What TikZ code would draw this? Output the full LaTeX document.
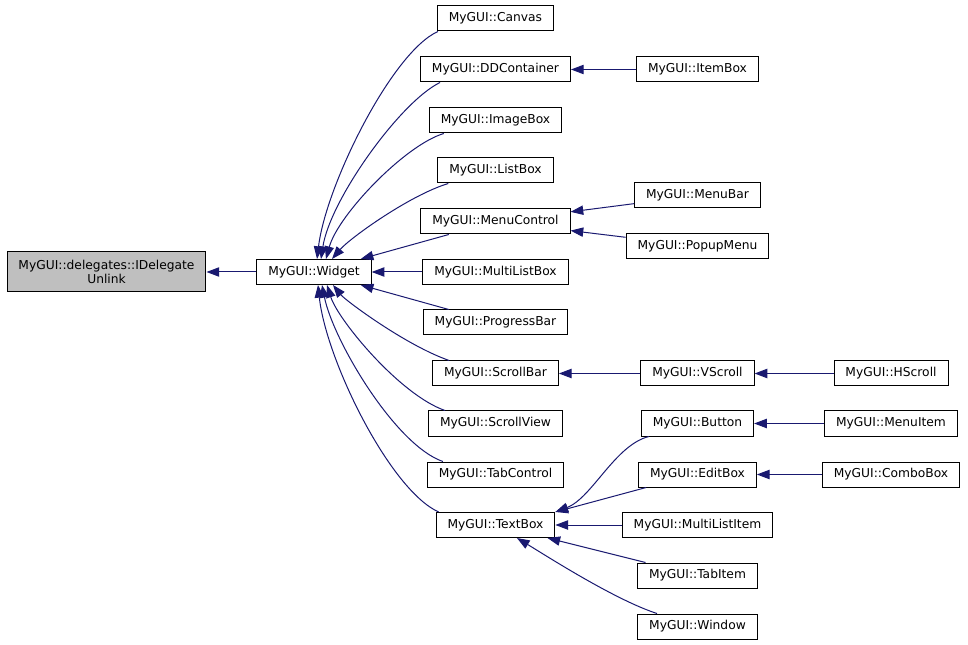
\documentclass[tikz,border=0pt]{standalone}
\usepackage{fontspec}
\setmainfont{DejaVu Sans}
\usetikzlibrary{arrows.meta}
\definecolor{edgeblue}{RGB}{25,25,112}
\definecolor{rootgray}{RGB}{191,191,191}
\tikzset{
  cls/.style={draw=black, line width=0.75pt, fill=white, inner xsep=8.6pt, inner ysep=0pt,
    minimum height=18.75pt, font=\fontsize{9.2}{10.7}\selectfont},
  inh/.style={draw=edgeblue, line width=0.75pt, {Triangle[length=9.5pt,width=7pt]}-},
}
\begin{document}
\begin{tikzpicture}[x=0.75pt,y=-0.75pt]
  \useasboundingbox (0,0) rectangle (968,645);
  % classes
  \node[cls, fill=rootgray, align=center, minimum height=30pt] (root) at (106.5,272) {MyGUI::delegates::IDelegate\\Unlink};
  \node[cls] (widget) at (314,272) {MyGUI::Widget};
  \node[cls] (canvas) at (495.5,18.5) {MyGUI::Canvas};
  \node[cls] (ddcont) at (495.5,69.5) {MyGUI::DDContainer};
  \node[cls] (imagebox) at (495.5,120.5) {MyGUI::ImageBox};
  \node[cls] (listbox) at (495.5,170.5) {MyGUI::ListBox};
  \node[cls] (menuctrl) at (495.5,221.5) {MyGUI::MenuControl};
  \node[cls] (multilistbox) at (495.5,272) {MyGUI::MultiListBox};
  \node[cls] (progressbar) at (495.5,322.5) {MyGUI::ProgressBar};
  \node[cls] (scrollbar) at (495.5,373.5) {MyGUI::ScrollBar};
  \node[cls] (scrollview) at (495.5,423.5) {MyGUI::ScrollView};
  \node[cls] (tabctrl) at (495.5,474.5) {MyGUI::TabControl};
  \node[cls] (textbox) at (495.5,525) {MyGUI::TextBox};
  \node[cls] (itembox) at (697.5,69.5) {MyGUI::ItemBox};
  \node[cls] (menubar) at (697.5,195.5) {MyGUI::MenuBar};
  \node[cls] (popupmenu) at (697.5,246) {MyGUI::PopupMenu};
  \node[cls] (vscroll) at (697.5,373.5) {MyGUI::VScroll};
  \node[cls] (button) at (697.5,423.5) {MyGUI::Button};
  \node[cls] (editbox) at (697.5,474.5) {MyGUI::EditBox};
  \node[cls] (multilistitem) at (697.5,525) {MyGUI::MultiListItem};
  \node[cls] (tabitem) at (697.5,575.5) {MyGUI::TabItem};
  \node[cls] (window) at (697.5,626.5) {MyGUI::Window};
  \node[cls] (hscroll) at (891,373.5) {MyGUI::HScroll};
  \node[cls] (menuitem) at (891,423.5) {MyGUI::MenuItem};
  \node[cls] (combobox) at (891,474.5) {MyGUI::ComboBox};
  % inheritance
  \draw[inh] (root) -- (widget);
  \draw[inh] ([xshift=2.25pt]widget.north) .. controls (326,185) and (392,52) .. ([xshift=0.75pt]canvas.south west);
  \draw[inh] ([xshift=5.25pt]widget.north) .. controls (330,200) and (400,102) .. ([xshift=15pt]ddcont.south west);
  \draw[inh] ([xshift=9pt]widget.north) .. controls (338,215) and (405,145) .. ([xshift=11.25pt]imagebox.south west);
  \draw[inh] ([xshift=13.5pt]widget.north) .. controls (350,238) and (410,195) .. ([xshift=8.25pt]listbox.south west);
  \draw[inh] (widget) -- (menuctrl);
  \draw[inh] (widget) -- (multilistbox);
  \draw[inh] (widget) -- (progressbar);
  \draw[inh] ([xshift=14.25pt]widget.south) .. controls (345,300) and (405,345) .. ([xshift=12.75pt]scrollbar.north west);
  \draw[inh] ([xshift=9.75pt]widget.south) .. controls (338,320) and (400,395) .. ([xshift=12.75pt]scrollview.north west);
  \draw[inh] ([xshift=6pt]widget.south) .. controls (333,340) and (395,445) .. ([xshift=12pt]tabctrl.north west);
  \draw[inh] ([xshift=3pt]widget.south) .. controls (326,360) and (390,490) .. ([xshift=2.25pt]textbox.north west);
  \draw[inh] (ddcont) -- (itembox);
  \draw[inh] (menuctrl) -- (menubar);
  \draw[inh] (menuctrl) -- (popupmenu);
  \draw[inh] (scrollbar) -- (vscroll);
  \draw[inh] (vscroll) -- (hscroll);
  \draw[inh] (textbox.north east) .. controls (592,498) and (615,445) .. ([xshift=6pt]button.south west);
  \draw[inh] (textbox.north east) -- ([xshift=6pt]editbox.south west);
  \draw[inh] (textbox) -- (multilistitem);
  \draw[inh] (textbox) -- (tabitem);
  \draw[inh] (textbox) .. controls (545,555) and (615,600) .. (window);
  \draw[inh] (button) -- (menuitem);
  \draw[inh] (editbox) -- (combobox);
\end{tikzpicture}
\end{document}
